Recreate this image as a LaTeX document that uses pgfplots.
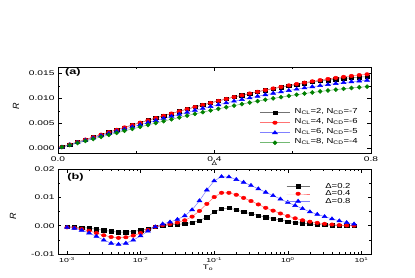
\documentclass[border=0pt]{standalone}
\usepackage{fontspec}
\setmainfont[FakeStretch=1.5]{Liberation Sans}
\newfontfamily\plainsans{Liberation Sans}
\newfontfamily\legfont[FakeStretch=1.3]{Liberation Sans}
\usepackage{pgfplots}
\usepackage{pgfplotstable}
\pgfplotsset{compat=1.18}

% panel (a): R in units of 1e-3
\pgfplotstableread{
D K R B G
0.01 0.25 0.25 0.23 0.21
0.03 0.75 0.75 0.69 0.62
0.05 1.24 1.24 1.14 1.04
0.07 1.74 1.74 1.60 1.45
0.09 2.23 2.23 2.05 1.86
0.11 2.73 2.73 2.51 2.27
0.13 3.22 3.22 2.96 2.68
0.15 3.70 3.70 3.40 3.08
0.17 4.18 4.18 3.85 3.49
0.19 4.66 4.66 4.28 3.88
0.21 5.13 5.13 4.72 4.28
0.23 5.60 5.60 5.15 4.67
0.25 6.06 6.06 5.57 5.05
0.27 6.52 6.52 5.99 5.43
0.29 6.97 6.97 6.41 5.81
0.31 7.41 7.41 6.81 6.17
0.33 7.85 7.85 7.21 6.54
0.35 8.27 8.27 7.60 6.89
0.37 8.69 8.69 7.99 7.24
0.39 9.10 9.10 8.36 7.58
0.41 9.50 9.50 8.73 7.91
0.43 9.89 9.89 9.09 8.23
0.45 10.27 10.27 9.44 8.55
0.47 10.63 10.63 9.77 8.86
0.49 10.99 10.99 10.10 9.16
0.51 11.32 11.34 10.42 9.45
0.53 11.65 11.68 10.73 9.73
0.55 11.95 12.00 11.03 10.00
0.57 12.24 12.31 11.31 10.25
0.59 12.52 12.61 11.59 10.50
0.61 12.78 12.89 11.85 10.74
0.63 13.03 13.17 12.10 10.97
0.65 13.26 13.43 12.34 11.19
0.67 13.47 13.67 12.57 11.39
0.69 13.66 13.90 12.78 11.58
0.71 13.84 14.12 12.98 11.76
0.73 14.00 14.32 13.16 11.93
0.75 14.14 14.51 13.34 12.09
0.77 14.26 14.68 13.50 12.23
0.79 14.37 14.84 13.64 12.36
}\tabA

% panel (b): R in units of 1e-3
\pgfplotstableread{
T K R B
0.001 -0.40 -0.60 -0.60
0.0012589 -0.50 -0.80 -0.90
0.0015849 -0.65 -1.20 -1.60
0.0019953 -0.90 -1.80 -2.60
0.0025119 -1.25 -2.60 -3.80
0.0031623 -1.65 -3.40 -5.10
0.0039811 -2.00 -4.00 -6.20
0.0050119 -2.30 -4.30 -6.60
0.0063096 -2.30 -4.10 -6.20
0.0079433 -2.05 -3.50 -5.10
0.01 -1.60 -2.60 -3.60
0.012589 -1.05 -1.50 -1.90
0.015849 -0.45 -0.40 -0.40
0.019953 0.00 0.20 0.60
0.025119 0.25 0.60 1.30
0.031623 0.45 1.10 2.20
0.039811 0.70 1.90 3.50
0.050119 1.10 3.20 5.60
0.063096 1.80 5.20 8.80
0.079433 3.00 7.70 12.60
0.1 4.80 10.10 15.80
0.12589 6.00 11.60 17.30
0.15849 6.20 11.60 17.20
0.19953 5.60 10.90 16.30
0.25119 4.80 9.80 15.30
0.31623 4.20 8.70 14.20
0.39811 3.60 7.50 13.00
0.50119 3.00 6.30 11.80
0.63096 2.50 5.30 10.60
0.79433 2.00 4.30 9.40
1.0 1.50 3.40 8.20
1.2589 1.15 2.60 7.10
1.5849 0.85 1.90 6.00
1.9953 0.60 1.40 4.90
2.5119 0.40 1.00 4.00
3.1623 0.25 0.65 3.20
3.9811 0.15 0.40 2.40
5.0119 0.10 0.20 1.70
6.3096 0.05 0.08 1.10
7.9433 0.02 0.03 0.60
}\tabB

\definecolor{ogreen}{RGB}{0,128,0}

\pgfplotsset{
  myaxis/.style={
    scale only axis, width=313pt, anchor=south west,
    axis line style={line width=0.8pt},
    tick align=inside,
    major tick length=3.5pt, minor tick length=2pt,
    every tick/.style={line width=0.6pt, black},
    ticklabel style={font=\fontsize{6.8}{7}\selectfont},
    legend cell align=left,
  },
  sK/.style={color=black!55, line width=0.5pt, mark=square*, mark size=1.6pt,
    mark options={xscale=1.35, fill=black, draw=black, solid}},
  sR/.style={color=red!55, line width=0.5pt, mark=*, mark size=1.7pt,
    mark options={xscale=1.35, fill=red, draw=red, solid}},
  sB/.style={color=blue!50, line width=0.5pt, mark=triangle*, mark size=2.1pt,
    mark options={xscale=1.35, fill=blue, draw=blue, solid}},
  sG/.style={color=ogreen!55, line width=0.5pt, mark=diamond*, mark size=2.0pt,
    mark options={xscale=1.35, fill=ogreen, draw=ogreen, solid}},
}

\begin{document}
\begin{tikzpicture}
\path[use as bounding box] (0pt,0pt) rectangle (415pt,277pt);

% ---------------- panel (a)
\begin{axis}[myaxis,
  at={(58pt,124pt)}, height=86pt,
  xmin=0, xmax=0.8, ymin=-0.96, ymax=16.3,
  xtick={0,0.4,0.8}, xticklabels={0.0,0.4,0.8}, minor xtick={0.2,0.6},
  ytick={0,5,10,15}, yticklabels={0.000,0.005,0.010,0.015},
  minor ytick={2.5,7.5,12.5},
  legend style={at={(0.6438,0.529)}, anchor=north west, draw=none, fill=none,
    font=\legfont\fontsize{7.3}{8}\selectfont, inner sep=0pt, row sep=0pt,
    nodes={inner sep=0.5pt, text height=5.5pt, text depth=3.5pt},
    /tikz/every odd column/.append style={column sep=4pt}},
  legend image code/.code={\draw[mark repeat=2, mark phase=2, #1]
    plot coordinates {(0pt,0pt) (15pt,0pt) (30pt,0pt)};},
]
\addplot[sK] table[x=D, y=K] {\tabA};
\addlegendentry{N\textsubscript{CL}=2, N\textsubscript{CD}=-7}
\addplot[sR] table[x=D, y=R] {\tabA};
\addlegendentry{N\textsubscript{CL}=4, N\textsubscript{CD}=-6}
\addplot[sB] table[x=D, y=B] {\tabA};
\addlegendentry{N\textsubscript{CL}=6, N\textsubscript{CD}=-5}
\addplot[sG] table[x=D, y=G] {\tabA};
\addlegendentry{N\textsubscript{CL}=8, N\textsubscript{CD}=-4}
\node[anchor=west, font=\bfseries\fontsize{8.5}{9}\selectfont, inner sep=0pt]
  at (rel axis cs:0.022,0.936) {(a)};
\end{axis}

% ---------------- panel (b)
\begin{axis}[myaxis,
  at={(58pt,23pt)}, height=85pt,
  xmode=log, xmin=7.55e-4, xmax=13.5, ymin=-10, ymax=20,
  xtick={0.001,0.01,0.1,1,10},
  xticklabels={10\textsuperscript{-3},10\textsuperscript{-2},10\textsuperscript{-1},10\textsuperscript{0},10\textsuperscript{1}},
  x tick label style={font=\fontsize{5.8}{6}\selectfont},
  minor xtick={0.002,0.003,0.004,0.005,0.006,0.007,0.008,0.009,
    0.02,0.03,0.04,0.05,0.06,0.07,0.08,0.09,
    0.2,0.3,0.4,0.5,0.6,0.7,0.8,0.9,
    2,3,4,5,6,7,8,9},
  ytick={-10,0,10,20}, yticklabels={-0.01,0.00,0.01,0.02},
  minor ytick={-5,5,15},
  legend style={at={(0.729,0.8435)}, anchor=north west, draw=none, fill=none,
    font=\legfont\fontsize{7.3}{8}\selectfont, inner sep=0pt, row sep=0pt,
    nodes={inner sep=0.5pt, text height=5pt, text depth=1.5pt},
    /tikz/every odd column/.append style={column sep=15pt}},
  legend image code/.code={\draw[mark repeat=2, mark phase=2, #1]
    plot coordinates {(0pt,0pt) (11.5pt,0pt) (23pt,0pt)};},
]
\addplot[sK] table[x=T, y=K] {\tabB};
\addlegendentry{Δ=0.2}
\addplot[sR] table[x=T, y=R] {\tabB};
\addlegendentry{Δ=0.4}
\addplot[sB] table[x=T, y=B] {\tabB};
\addlegendentry{Δ=0.8}
\node[anchor=west, font=\bfseries\fontsize{8.5}{9}\selectfont, inner sep=0pt]
  at (rel axis cs:0.029,0.9) {(b)};
\end{axis}

% axis titles
\node[rotate=90, font=\plainsans\itshape\fontsize{9}{10}\selectfont] at (16pt,170.3pt) {R};
\node[rotate=90, font=\plainsans\itshape\fontsize{9}{10}\selectfont] at (13pt,60.3pt) {R};
\node[font=\fontsize{5.5}{6}\selectfont, inner sep=0pt] at (214.5pt,113pt) {Δ};
\node[font=\fontsize{6.5}{7}\selectfont, inner sep=0pt] at (208pt,9pt) {T\textsubscript{o}};
\end{tikzpicture}
\end{document}
